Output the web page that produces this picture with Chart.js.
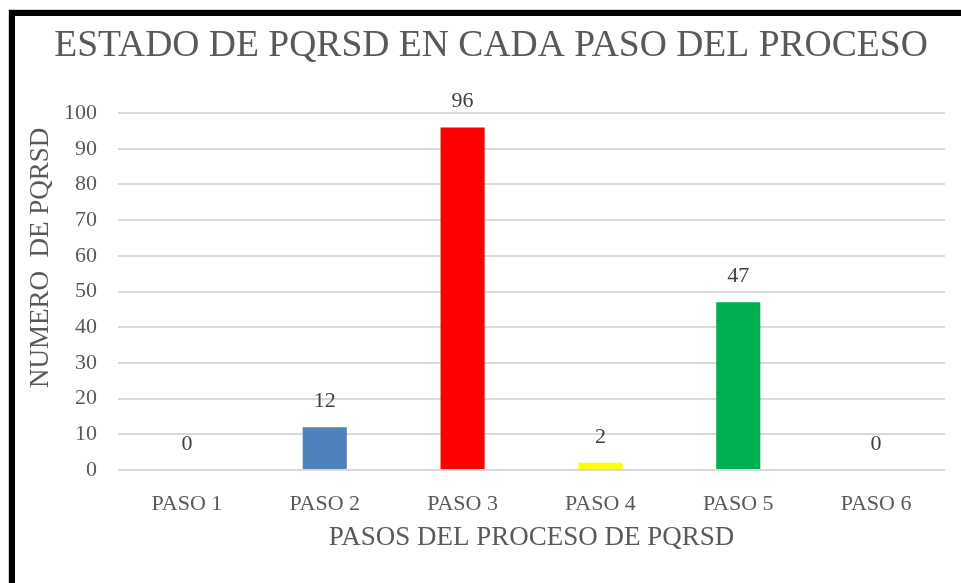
<!DOCTYPE html>
<html>
<head>
<meta charset="utf-8">
<script src="https://cdn.jsdelivr.net/npm/chart.js@4.4.1/dist/chart.umd.min.js"></script>
<style>
  html, body { margin: 0; padding: 0; background: #fff; }
  #wrap { position: relative; width: 961px; height: 583px; overflow: hidden; }
  #frame {
    position: absolute; left: 8px; top: 9px; width: 1000px; height: 700px;
    border-top: 1px solid #d0d0d0; border-left: 1px solid #d0d0d0;
  }
  #frame2 {
    position: absolute; left: 9px; top: 10px; width: 1000px; height: 700px;
    border-top: 6px solid #000; border-left: 6px solid #000;
  }
  canvas { position: absolute; left: 0; top: 0; }
</style>
</head>
<body>
<div id="wrap">
  <div id="frame"></div>
  <div id="frame2"></div>
  <canvas id="chart" width="961" height="583"></canvas>
</div>
<script>
// datos del grafico
const pasos = ["PASO 1", "PASO 2", "PASO 3", "PASO 4", "PASO 5", "PASO 6"];
const numeroPqrsd = [0, 12, 96, 2, 47, 0];
const coloresBarras = ["#4F81BD", "#4F81BD", "#FF0000", "#FFFF00", "#00B050", "#4F81BD"];
const yTicks = [0, 10, 20, 30, 40, 50, 60, 70, 80, 90, 100];

const fuente = "'Liberation Serif', 'Times New Roman', serif";
const gris = "#595959";

// etiquetas de valor encima de cada barra
const valorPlugin = {
    id: "valorPlugin",
    afterDatasetsDraw: (chart) => {
        const { ctx } = chart;
        const meta = chart.getDatasetMeta(0);
        ctx.save();
        ctx.font = "22px " + fuente;
        ctx.fillStyle = "#404040";
        ctx.textAlign = "center";
        ctx.textBaseline = "alphabetic";
        meta.data.forEach((bar, i) => {
            ctx.fillText(String(numeroPqrsd[i]), bar.x, bar.y - 20);
        });
        ctx.restore();
    },
};

// espacios al inicio para subir el titulo del eje Y como en el original
const tituloY = "\u00A0".repeat(10) + "NUMERO  DE PQRSD";

const ctx = document.getElementById("chart").getContext("2d");
new Chart(ctx, {
    type: "bar",
    data: {
        labels: pasos,
        datasets: [{
            data: numeroPqrsd,
            backgroundColor: coloresBarras,
            borderWidth: 0,
            categoryPercentage: 1,
            barPercentage: 0.32,
        }],
    },
    options: {
        responsive: false,
        animation: false,
        layout: { padding: { left: 37, right: 16, top: 0, bottom: 25 } },
        plugins: {
            legend: { display: false },
            tooltip: { enabled: false },
            title: {
                display: true,
                text: "ESTADO DE PQRSD EN CADA PASO DEL PROCESO",
                color: gris,
                font: { family: fuente, size: 37.6, weight: "normal" },
                padding: { top: 24, bottom: 44 },
            },
        },
        scales: {
            x: {
                afterFit: (scale) => {
                    scale.height = 88;
                },
                grid: { display: false, drawTicks: false },
                border: { display: false },
                ticks: {
                    color: gris,
                    font: { family: fuente, size: 22 },
                    padding: 21,
                },
                title: {
                    display: true,
                    text: "PASOS DEL PROCESO DE PQRSD",
                    color: gris,
                    font: { family: fuente, size: 27 },
                    padding: { top: 4, bottom: 4 },
                },
            },
            y: {
                min: 0,
                max: 100,
                afterBuildTicks: (scale) => {
                    scale.ticks = yTicks.map((v) => ({ value: v }));
                },
                afterFit: (scale) => {
                    scale.width = 81;
                },
                grid: { color: "#d9d9d9", lineWidth: 2, drawTicks: false },
                border: { display: false },
                ticks: {
                    color: gris,
                    font: { family: fuente, size: 22 },
                    padding: 21,
                },
                title: {
                    display: true,
                    text: tituloY,
                    color: gris,
                    font: { family: fuente, size: 27 },
                    padding: { top: -12.2, bottom: 0 },
                },
            },
        },
    },
    plugins: [valorPlugin],
});
</script>
</body>
</html>
